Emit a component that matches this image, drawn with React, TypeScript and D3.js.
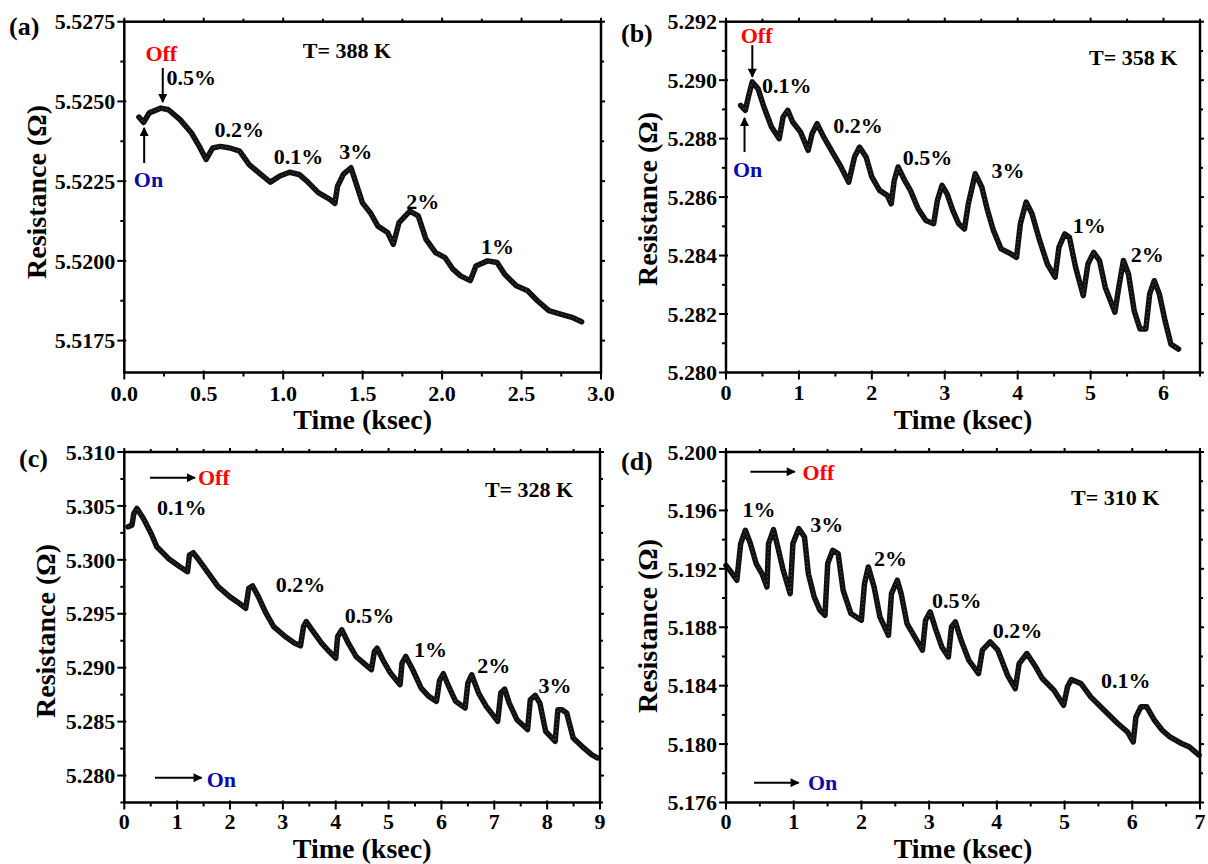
import React from 'react';
import * as d3 from 'd3';

const FONT = "'Liberation Serif','Times New Roman',Times,serif";

// ---------- Panel (a) T = 388 K ----------
const timeA = [0.092, 0.121, 0.157, 0.230, 0.278, 0.351, 0.423, 0.472, 0.515, 0.556, 0.605, 0.665, 0.726, 0.786, 0.859, 0.919, 0.979, 1.040, 1.100, 1.149, 1.221, 1.294, 1.325, 1.342, 1.378, 1.427, 1.451, 1.499, 1.548, 1.596, 1.657, 1.693, 1.729, 1.797, 1.850, 1.898, 1.959, 2.019, 2.068, 2.116, 2.177, 2.213, 2.286, 2.346, 2.394, 2.467, 2.539, 2.600, 2.672, 2.745, 2.817, 2.878];
const resA = [5.52451, 5.52434, 5.52464, 5.52479, 5.52474, 5.52443, 5.52401, 5.52359, 5.52318, 5.52354, 5.52359, 5.52354, 5.52344, 5.52302, 5.52271, 5.52247, 5.52266, 5.52278, 5.52271, 5.5225, 5.52214, 5.52193, 5.5218, 5.52234, 5.52271, 5.52292, 5.52255, 5.52182, 5.52151, 5.52109, 5.52089, 5.52052, 5.5212, 5.52156, 5.52141, 5.52068, 5.52026, 5.5201, 5.51974, 5.51953, 5.51938, 5.51984, 5.5200, 5.51995, 5.51958, 5.51922, 5.51906, 5.51875, 5.51844, 5.51833, 5.51823, 5.51809];
const xTicksA = [0, 0.5, 1.0, 1.5, 2.0, 2.5, 3.0];
const yTicksA = [5.5175, 5.5200, 5.5225, 5.5250, 5.5275];

// ---------- Panel (b) T = 358 K ----------
const timeB = [0.201, 0.265, 0.307, 0.360, 0.439, 0.519, 0.624, 0.730, 0.783, 0.847, 0.915, 1.021, 1.127, 1.180, 1.249, 1.339, 1.471, 1.577, 1.683, 1.762, 1.831, 1.921, 2.000, 2.106, 2.212, 2.265, 2.307, 2.360, 2.450, 2.529, 2.635, 2.741, 2.847, 2.899, 2.963, 3.032, 3.111, 3.190, 3.270, 3.323, 3.418, 3.508, 3.587, 3.667, 3.772, 3.905, 3.984, 4.037, 4.116, 4.196, 4.302, 4.407, 4.513, 4.566, 4.646, 4.709, 4.794, 4.899, 4.963, 5.042, 5.122, 5.201, 5.333, 5.386, 5.450, 5.519, 5.598, 5.677, 5.757, 5.810, 5.873, 5.942, 6.021, 6.101, 6.206];
const resB = [5.28914, 5.28897, 5.28943, 5.28994, 5.28971, 5.28909, 5.2884, 5.2880, 5.28874, 5.28897, 5.28857, 5.28823, 5.2876, 5.28817, 5.28851, 5.28806, 5.28749, 5.28703, 5.28651, 5.28737, 5.28771, 5.28737, 5.28669, 5.28623, 5.28606, 5.28577, 5.28657, 5.28703, 5.28657, 5.28623, 5.2856, 5.2852, 5.28509, 5.28589, 5.2864, 5.28611, 5.28554, 5.28509, 5.28491, 5.28577, 5.2868, 5.28634, 5.28554, 5.28486, 5.28423, 5.28406, 5.28394, 5.28509, 5.28583, 5.28543, 5.28451, 5.28371, 5.28326, 5.28429, 5.28474, 5.28463, 5.2836, 5.28263, 5.28371, 5.28411, 5.28383, 5.28291, 5.28206, 5.28291, 5.28383, 5.28337, 5.28211, 5.28149, 5.28149, 5.28269, 5.28314, 5.28269, 5.28177, 5.28097, 5.2808];
const xTicksB = [0, 1, 2, 3, 4, 5, 6];
const yTicksB = [5.280, 5.282, 5.284, 5.286, 5.288, 5.290, 5.292];

// ---------- Panel (c) T = 328 K ----------
const timeC = [0.072, 0.145, 0.181, 0.239, 0.362, 0.507, 0.616, 0.833, 1.051, 1.196, 1.232, 1.304, 1.413, 1.594, 1.775, 1.993, 2.174, 2.297, 2.355, 2.428, 2.536, 2.681, 2.826, 3.043, 3.225, 3.333, 3.391, 3.442, 3.551, 3.732, 3.877, 4.000, 4.036, 4.116, 4.239, 4.384, 4.529, 4.674, 4.732, 4.783, 4.891, 5.036, 5.217, 5.254, 5.326, 5.457, 5.616, 5.761, 5.906, 5.964, 6.036, 6.138, 6.268, 6.449, 6.500, 6.572, 6.703, 6.848, 7.065, 7.123, 7.196, 7.283, 7.428, 7.630, 7.681, 7.775, 7.862, 7.971, 8.152, 8.203, 8.283, 8.370, 8.493, 8.659, 8.841, 8.949];
const resC = [5.30306, 5.30322, 5.3043, 5.30476, 5.30383, 5.30245, 5.30121, 5.30013, 5.29936, 5.2989, 5.30044, 5.30066, 5.29998, 5.29875, 5.29751, 5.29659, 5.29597, 5.29551, 5.29736, 5.29758, 5.29659, 5.29505, 5.29381, 5.29289, 5.29227, 5.29203, 5.29381, 5.29428, 5.29351, 5.29227, 5.2915, 5.29088, 5.29289, 5.29351, 5.29227, 5.29104, 5.29042, 5.28981, 5.2915, 5.29181, 5.29073, 5.2895, 5.28842, 5.29042, 5.29104, 5.28981, 5.28811, 5.28734, 5.28688, 5.2888, 5.28944, 5.28826, 5.28688, 5.28626, 5.28857, 5.28934, 5.28765, 5.28641, 5.28503, 5.28765, 5.28802, 5.28672, 5.28518, 5.28426, 5.28703, 5.28743, 5.28672, 5.2841, 5.28318, 5.2861, 5.2861, 5.2858, 5.28348, 5.28271, 5.28194, 5.28164];
const xTicksC = [0, 1, 2, 3, 4, 5, 6, 7, 8, 9];
const yTicksC = [5.280, 5.285, 5.290, 5.295, 5.300, 5.305, 5.310];

// ---------- Panel (d) T = 310 K ----------
const timeD = [0.000, 0.074, 0.160, 0.217, 0.286, 0.360, 0.445, 0.531, 0.605, 0.628, 0.702, 0.777, 0.845, 0.948, 0.988, 1.074, 1.159, 1.216, 1.302, 1.388, 1.462, 1.502, 1.576, 1.656, 1.730, 1.845, 1.999, 2.045, 2.102, 2.187, 2.273, 2.399, 2.444, 2.530, 2.587, 2.673, 2.787, 2.901, 2.947, 3.015, 3.101, 3.187, 3.284, 3.330, 3.387, 3.472, 3.586, 3.729, 3.786, 3.901, 4.015, 4.158, 4.272, 4.329, 4.443, 4.558, 4.672, 4.843, 4.986, 5.043, 5.100, 5.243, 5.386, 5.585, 5.785, 5.928, 6.014, 6.054, 6.128, 6.214, 6.328, 6.442, 6.556, 6.728, 6.842, 6.985];
const resD = [5.19224, 5.19179, 5.19122, 5.19373, 5.19464, 5.19373, 5.19236, 5.19167, 5.19076, 5.19373, 5.19468, 5.19327, 5.1919, 5.1903, 5.19373, 5.19475, 5.19418, 5.19167, 5.19008, 5.18916, 5.18882, 5.19236, 5.19327, 5.19304, 5.19053, 5.18894, 5.18848, 5.19099, 5.19213, 5.19076, 5.18871, 5.18745, 5.1903, 5.19122, 5.1903, 5.18825, 5.18734, 5.18643, 5.18848, 5.18905, 5.1878, 5.18665, 5.18597, 5.18802, 5.18837, 5.18711, 5.18574, 5.18483, 5.18643, 5.187, 5.18643, 5.18471, 5.1838, 5.18551, 5.1862, 5.1854, 5.18449, 5.18369, 5.18266, 5.18392, 5.18442, 5.18414, 5.18323, 5.18232, 5.18141, 5.18084, 5.18015, 5.18186, 5.18255, 5.18255, 5.18163, 5.18095, 5.18049, 5.18004, 5.17981, 5.17924];
const xTicksD = [0, 1, 2, 3, 4, 5, 6, 7];
const yTicksD = [5.176, 5.180, 5.184, 5.188, 5.192, 5.196, 5.200];

// Annotation texts (anchored in data units)
type Ann = { text: string; t: number; r: number; color?: string };
type Arr = { t1: number; r1: number; t2: number; r2: number };

const RED = '#ff0000';
const BLUE = '#0b0ba6';

const annA: Ann[] = [
  { text: 'T= 388 K', t: 1.123, r: 5.52636 },
  { text: 'Off', t: 0.133, r: 5.52627, color: RED },
  { text: 'On', t: 0.06, r: 5.52232, color: BLUE },
  { text: '0.5%', t: 0.266, r: 5.52551 },
  { text: '0.2%', t: 0.567, r: 5.52389 },
  { text: '0.1%', t: 0.941, r: 5.52304 },
  { text: '3%', t: 1.352, r: 5.5232 },
  { text: '2%', t: 1.774, r: 5.52163 },
  { text: '1%', t: 2.245, r: 5.52022 },
];
const arrA: Arr[] = [
  { t1: 0.242, r1: 5.52605, t2: 0.242, r2: 5.52498 },
  { t1: 0.125, r1: 5.52307, t2: 0.125, r2: 5.52417 },
];
const annB: Ann[] = [
  { text: 'T= 358 K', t: 4.978, r: 5.29052 },
  { text: 'Off', t: 0.202, r: 5.29127, color: RED },
  { text: 'On', t: 0.096, r: 5.28669, color: BLUE },
  { text: '0.1%', t: 0.494, r: 5.28956 },
  { text: '0.2%', t: 1.471, r: 5.28819 },
  { text: '0.5%', t: 2.425, r: 5.2871 },
  { text: '3%', t: 3.642, r: 5.28665 },
  { text: '1%', t: 4.754, r: 5.28477 },
  { text: '2%', t: 5.549, r: 5.28378 },
];
const arrB: Arr[] = [
  { t1: 0.361, r1: 5.2912, t2: 0.361, r2: 5.29011 },
  { t1: 0.254, r1: 5.28754, t2: 0.254, r2: 5.28871 },
];
const annC: Ann[] = [
  { text: 'T= 328 K', t: 6.822, r: 5.30583 },
  { text: 'Off', t: 1.394, r: 5.30694, color: RED },
  { text: 'On', t: 1.559, r: 5.27897, color: BLUE },
  { text: '0.1%', t: 0.617, r: 5.30416 },
  { text: '0.2%', t: 2.866, r: 5.29702 },
  { text: '0.5%', t: 4.173, r: 5.29414 },
  { text: '1%', t: 5.479, r: 5.29102 },
  { text: '2%', t: 6.676, r: 5.28954 },
  { text: '3%', t: 7.838, r: 5.28765 },
];
const arrC: Arr[] = [
  { t1: 0.486, r1: 5.30762, t2: 1.338, r2: 5.30762 },
  { t1: 0.581, r1: 5.2798, t2: 1.464, r2: 5.2798 },
];
const annD: Ann[] = [
  { text: 'T= 310 K', t: 5.095, r: 5.19637 },
  { text: 'Off', t: 1.13, r: 5.19808, color: RED },
  { text: 'On', t: 1.211, r: 5.17686, color: BLUE },
  { text: '1%', t: 0.245, r: 5.19555 },
  { text: '3%', t: 1.245, r: 5.19452 },
  { text: '2%', t: 2.186, r: 5.19219 },
  { text: '0.5%', t: 3.042, r: 5.18932 },
  { text: '0.2%', t: 3.939, r: 5.18726 },
  { text: '0.1%', t: 5.538, r: 5.18384 },
];
const arrD: Arr[] = [
  { t1: 0.36, r1: 5.19865, t2: 1.016, r2: 5.19865 },
  { t1: 0.414, r1: 5.17736, t2: 1.074, r2: 5.17736 },
];

type PanelCfg = {
  letter: string;
  box: [number, number, number, number]; // left, right, top, bottom
  xDomain: [number, number];
  yDomain: [number, number];
  xTicks: number[];
  yTicks: number[];
  xFmt: (v: number) => string;
  yFmt: (v: number) => string;
  t: number[];
  r: number[];
  ann: Ann[];
  arrows: Arr[];
  letterPos: [number, number];
  yTitleX: number;
  yTitleY: number;
  xTickDy: number;
  xTitleDy: number;
};

const panels: PanelCfg[] = [
  {
    letter: '(a)', box: [124.3, 601, 21.7, 372.5], xDomain: [0, 3.0], yDomain: [5.5165, 5.5275],
    xTicks: xTicksA, yTicks: yTicksA, xFmt: (v) => v.toFixed(1), yFmt: (v) => v.toFixed(4),
    t: timeA, r: resA, ann: annA, arrows: arrA, letterPos: [9, 35], yTitleX: 46, yTitleY: 192, xTickDy: 28, xTitleDy: 56,
  },
  {
    letter: '(b)', box: [726, 1200, 21.7, 372.5], xDomain: [0, 6.5], yDomain: [5.280, 5.292],
    xTicks: xTicksB, yTicks: yTicksB, xFmt: (v) => String(v), yFmt: (v) => v.toFixed(3),
    t: timeB, r: resB, ann: annB, arrows: arrB, letterPos: [621, 42], yTitleX: 657, yTitleY: 199, xTickDy: 27, xTitleDy: 56,
  },
  {
    letter: '(c)', box: [124.3, 600, 452, 802.5], xDomain: [0, 9], yDomain: [5.2775, 5.310],
    xTicks: xTicksC, yTicks: yTicksC, xFmt: (v) => String(v), yFmt: (v) => v.toFixed(3),
    t: timeC, r: resC, ann: annC, arrows: arrC, letterPos: [19, 467], yTitleX: 55, yTitleY: 631, xTickDy: 26, xTitleDy: 55,
  },
  {
    letter: '(d)', box: [726, 1200, 452, 802.5], xDomain: [0, 7], yDomain: [5.176, 5.200],
    xTicks: xTicksD, yTicks: yTicksD, xFmt: (v) => String(v), yFmt: (v) => v.toFixed(3),
    t: timeD, r: resD, ann: annD, arrows: arrD, letterPos: [621, 470], yTitleX: 657, yTitleY: 626, xTickDy: 26, xTitleDy: 55,
  },
];

function minorTicks(major: number[], domain: [number, number]): number[] {
  const step = (major[1] - major[0]) / 2;
  const out: number[] = [];
  const start = major[0] - step * Math.floor((major[0] - domain[0]) / step + 1e-6);
  for (let v = start; v <= domain[1] + 1e-9; v += step) {
    const isMajor = major.some((m) => Math.abs(m - v) < step * 1e-3);
    if (!isMajor) out.push(v);
  }
  return out;
}

function Panel({ p }: { p: PanelCfg }) {
  const [L, R, T, B] = p.box;
  const x = d3.scaleLinear().domain(p.xDomain).range([L, R]);
  const y = d3.scaleLinear().domain(p.yDomain).range([B, T]);
  const pts = p.t.map((t, i) => [t, p.r[i]] as [number, number]);
  const line = d3
    .line<[number, number]>()
    .x((d) => x(d[0]))
    .y((d) => y(d[1]))
    .curve(d3.curveLinear);
  const xMinor = minorTicks(p.xTicks, p.xDomain);
  const yMinor = minorTicks(p.yTicks, p.yDomain);
  const tickStyle = { stroke: '#000', strokeWidth: 2 };
  return (
    <g fontFamily={FONT} fontWeight="bold">
      {/* data curve */}
      <path d={line(pts) || ''} fill="none" stroke="#111" strokeWidth={5.5} strokeLinejoin="round" strokeLinecap="round" />
      <path d={line(pts) || ''} fill="none" stroke="#666" strokeWidth={1} strokeDasharray="1 3" strokeLinejoin="round" />
      {/* frame */}
      <rect x={L} y={T} width={R - L} height={B - T} fill="none" stroke="#000" strokeWidth={2.5} />
      {/* bottom ticks */}
      {p.xTicks.map((v, i) => (
        <g key={'xt' + i}>
          <line x1={x(v)} x2={x(v)} y1={B - 2} y2={B + 7} {...tickStyle} />
          <line x1={x(v)} x2={x(v)} y1={T} y2={T - 4} {...tickStyle} />
          <text x={x(v)} y={B + p.xTickDy} textAnchor="middle" fontSize={22}>{p.xFmt(v)}</text>
        </g>
      ))}
      {xMinor.map((v, i) => (
        <g key={'xm' + i}>
          <line x1={x(v)} x2={x(v)} y1={B} y2={B + 4} {...tickStyle} />
          <line x1={x(v)} x2={x(v)} y1={T} y2={T - 3} {...tickStyle} />
        </g>
      ))}
      {p.yTicks.map((v, i) => (
        <g key={'yt' + i}>
          <line x1={L + 2} x2={L - 7} y1={y(v)} y2={y(v)} {...tickStyle} />
          <line x1={R} x2={R + 4} y1={y(v)} y2={y(v)} {...tickStyle} />
          <text x={L - 9} y={y(v)} dy="0.35em" textAnchor="end" fontSize={22}>{p.yFmt(v)}</text>
        </g>
      ))}
      {yMinor.map((v, i) => (
        <g key={'ym' + i}>
          <line x1={L} x2={L - 4} y1={y(v)} y2={y(v)} {...tickStyle} />
          <line x1={R} x2={R + 3} y1={y(v)} y2={y(v)} {...tickStyle} />
        </g>
      ))}
      {/* axis titles */}
      <text x={(L + R) / 2} y={B + p.xTitleDy} textAnchor="middle" fontSize={28}>Time (ksec)</text>
      <text transform={`translate(${p.yTitleX},${p.yTitleY}) rotate(-90)`} textAnchor="middle" fontSize={28}>Resistance (Ω)</text>
      {/* panel letter */}
      <text x={p.letterPos[0]} y={p.letterPos[1]} fontSize={26}>{p.letter}</text>
      {/* annotations */}
      {p.ann.map((a, i) => (
        <text key={'an' + i} x={x(a.t)} y={y(a.r)} fontSize={22} fill={a.color || '#000'}>{a.text}</text>
      ))}
      {p.arrows.map((a, i) => (
        <line key={'ar' + i} x1={x(a.t1)} y1={y(a.r1)} x2={x(a.t2)} y2={y(a.r2)} stroke="#000" strokeWidth={2} markerEnd="url(#arrowHead)" />
      ))}
    </g>
  );
}

export default function App() {
  return (
    <svg width={1208} height={864} style={{ position: 'absolute', left: 0, top: 0, background: '#fff' }}>
      <defs>
        <marker id="arrowHead" viewBox="0 0 10 10" refX={9} refY={5} markerWidth={11} markerHeight={9} markerUnits="userSpaceOnUse" orient="auto">
          <path d="M0,0 L10,5 L0,10 z" fill="#000" />
        </marker>
      </defs>
      <rect x={0} y={0} width={1208} height={864} fill="#fff" />
      {panels.map((p, i) => (
        <Panel key={i} p={p} />
      ))}
    </svg>
  );
}
